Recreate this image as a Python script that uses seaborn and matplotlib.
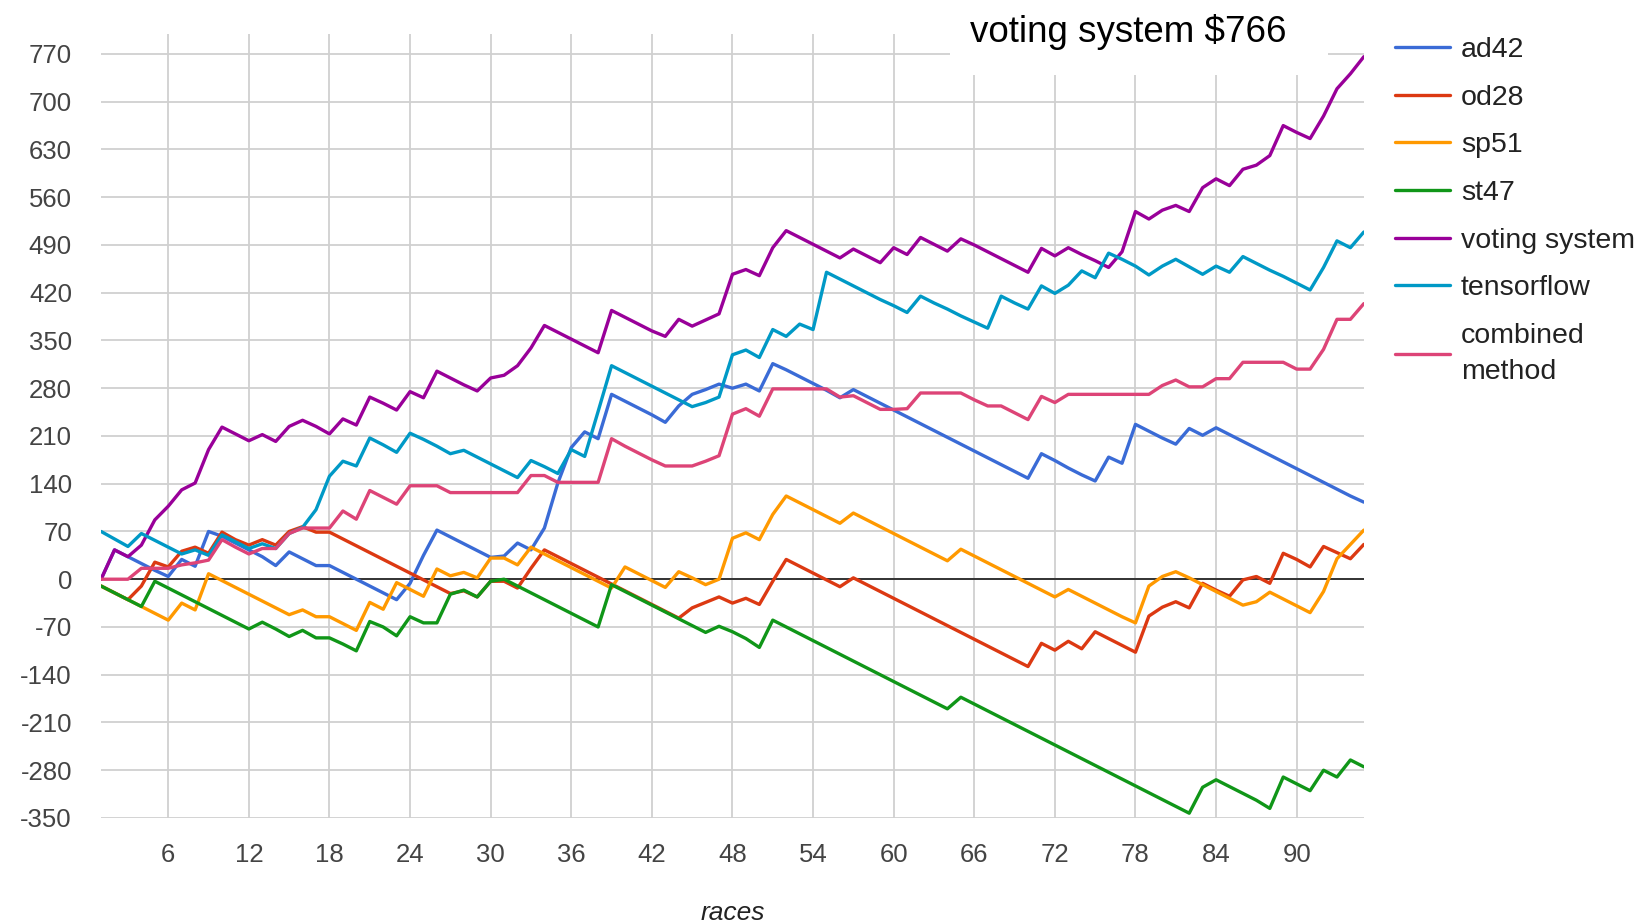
import matplotlib
matplotlib.use("Agg")
import matplotlib.pyplot as plt
from matplotlib.lines import Line2D
from matplotlib.patches import Rectangle
import numpy as np
import pandas as pd
import seaborn as sns

# ---------------- data ----------------
races = list(range(1, 96))

ad42 = [0, 43, 33, 23, 13, 4, 29, 19, 70, 63,
        53, 43, 33, 20, 40, 30, 20, 20, 10, 0,
        -10, -20, -30, -6, 35, 72, 62, 52, 42, 32,
        34, 53, 43, 75, 141, 193, 216, 206, 271, 261,
        251, 241, 230, 254, 271, 278, 286, 280, 286, 276,
        316, 307, 297, 287, 277, 266, 278, 268, 258, 248,
        238, 228, 218, 208, 198, 188, 178, 168, 158, 148,
        184, 174, 163, 153, 144, 179, 170, 227, 217, 207,
        198, 221, 211, 222, 212, 202, 192, 182, 172, 162,
        152, 142, 132, 122, 113]

od28 = [-10, -20, -30, -10, 25, 18, 41, 47, 38, 69,
        58, 50, 58, 50, 70, 77, 69, 69, 59, 49,
        39, 29, 19, 9, -1, -11, -21, -17, -26, -3,
        -3, -13, 16, 43, 33, 23, 13, 3, -7, -17,
        -27, -37, -47, -57, -42, -34, -26, -35, -28, -37,
        -3, 29, 19, 9, -1, -11, 2, -8, -18, -28,
        -38, -48, -58, -68, -78, -88, -98, -108, -118, -128,
        -94, -104, -91, -102, -77, -87, -97, -107, -54, -41,
        -33, -42, -6, -16, -25, -1, 4, -6, 38, 29,
        18, 48, 39, 30, 51]

sp51 = [-10, -20, -30, -40, -50, -60, -35, -45, 8, -2,
        -12, -22, -32, -42, -52, -45, -55, -55, -65, -75,
        -34, -44, -5, -15, -25, 15, 5, 10, 2, 31,
        31, 21, 47, 37, 27, 17, 7, -3, -13, 18,
        8, -2, -12, 11, 2, -8, 0, 60, 68, 58,
        95, 122, 112, 102, 92, 82, 97, 87, 77, 67,
        57, 47, 37, 27, 44, 34, 24, 14, 4, -6,
        -16, -26, -15, -25, -35, -45, -55, -64, -10, 4,
        11, 2, -8, -18, -28, -38, -33, -19, -29, -39,
        -49, -18, 30, 51, 72]

st47 = [-10, -20, -30, -40, -3, -13, -23, -33, -43, -53,
        -63, -73, -63, -73, -84, -75, -86, -86, -95, -105,
        -62, -70, -83, -55, -64, -64, -22, -16, -26, -3,
        0, -10, -20, -30, -40, -50, -60, -70, -8, -18,
        -28, -38, -48, -58, -68, -78, -69, -77, -87, -100,
        -60, -70, -80, -90, -100, -110, -120, -130, -140, -150,
        -160, -170, -180, -190, -173, -183, -193, -203, -213, -223,
        -233, -243, -253, -263, -273, -283, -293, -303, -313, -323,
        -333, -343, -305, -294, -304, -314, -324, -336, -290, -300,
        -310, -280, -290, -265, -275]

voting_system = [0, 43, 33, 50, 87, 107, 131, 141, 190, 223,
                 213, 203, 212, 202, 224, 233, 224, 213, 235, 226,
                 267, 258, 248, 275, 266, 305, 295, 285, 276, 295,
                 299, 313, 339, 372, 362, 352, 342, 332, 394, 384,
                 374, 364, 356, 381, 371, 380, 389, 447, 454, 445,
                 486, 511, 501, 491, 481, 471, 484, 474, 464, 486,
                 476, 501, 491, 481, 499, 490, 480, 470, 460, 450,
                 485, 474, 486, 476, 467, 457, 480, 539, 528, 541,
                 548, 539, 574, 587, 577, 601, 607, 621, 665, 655,
                 646, 679, 719, 741, 766]

tensorflow = [70, 59, 48, 67, 57, 47, 37, 43, 35, 65,
              55, 45, 52, 45, 67, 76, 102, 151, 173, 166,
              207, 197, 186, 214, 205, 195, 184, 189, 179, 169,
              159, 149, 174, 165, 155, 190, 180, 246, 313, 303,
              293, 283, 273, 263, 253, 259, 267, 329, 336, 325,
              366, 356, 374, 366, 450, 440, 430, 420, 410, 401,
              391, 415, 405, 396, 386, 377, 368, 415, 405, 396,
              430, 419, 431, 452, 442, 478, 469, 459, 446, 459,
              469, 458, 447, 459, 450, 473, 463, 453, 444, 434,
              424, 457, 496, 486, 509]

combined_method = [0, 0, 0, 16, 16, 16, 21, 24, 28, 58,
                   47, 37, 45, 45, 67, 75, 75, 75, 100, 88,
                   130, 120, 110, 137, 137, 137, 127, 127, 127, 127,
                   127, 127, 152, 152, 142, 142, 142, 142, 206, 195,
                   185, 175, 166, 166, 166, 173, 181, 242, 250, 239,
                   279, 279, 279, 279, 279, 267, 269, 259, 249, 249,
                   250, 273, 273, 273, 273, 263, 254, 254, 244, 234,
                   268, 259, 271, 271, 271, 271, 271, 271, 271, 284,
                   292, 282, 282, 294, 294, 318, 318, 318, 318, 308,
                   308, 337, 381, 381, 404]

series_names = ["ad42", "od28", "sp51", "st47", "voting system",
                "tensorflow", "combined\nmethod"]
series_values = [ad42, od28, sp51, st47, voting_system, tensorflow,
                 combined_method]
colors = ["#3a6bd6", "#dc3912", "#ff9900", "#109618", "#990099",
          "#0099c6", "#dd4477"]

y_ticks = list(range(-350, 771, 70))
x_ticks = list(range(6, 91, 6))
title_text = "voting system $766"
x_label = "races"

# ---------------- build long table ----------------
frames = []
for name, vals in zip(series_names, series_values):
    frames.append(pd.DataFrame({"race": races, "profit": vals, "series": name}))
df = pd.concat(frames, ignore_index=True)

# ---------------- style ----------------
sns.set_theme(style="white")
plt.rcParams["font.family"] = ["Liberation Sans", "DejaVu Sans"]
plt.rcParams["axes.unicode_minus"] = False

fig = plt.figure(figsize=(16.41, 9.23), dpi=100)
ax = fig.add_axes([0.0616, 0.1138, 0.7695, 0.8499])

sns.lineplot(data=df, x="race", y="profit", hue="series",
             hue_order=series_names, palette=colors, linewidth=2.4,
             estimator=None, sort=False, legend=False, ax=ax, zorder=3)

ax.set_xlim(1, 95)
ax.set_ylim(-350, 800)
ax.set_xticks(x_ticks)
ax.set_yticks(y_ticks)
ax.set_xticklabels([str(t) for t in x_ticks])
ax.set_yticklabels([str(t) for t in y_ticks])
ax.grid(True, color="#d0d0d0", linewidth=1.3)
ax.set_axisbelow(True)
for s in ax.spines.values():
    s.set_visible(False)
ax.axhline(0, color="#333333", linewidth=1.4, zorder=2)

ax.tick_params(axis="both", length=0, labelsize=18.5, labelcolor="#444444")
ax.tick_params(axis="y", pad=21)
ax.tick_params(axis="x", pad=18)

ax.set_xlabel(x_label, fontsize=19, style="italic", color="#222222")
ax.set_ylabel("")
ax.xaxis.label.set_va("center")
ax.xaxis.set_label_coords(0.5, -0.121)

# legend
handles = [Line2D([0], [0], color=c, lw=2.4) for c in colors]
leg = fig.legend(handles, series_names, loc="upper left",
                 bbox_to_anchor=(1395 / 1641, 1 - 37 / 923),
                 frameon=False, fontsize=20.5, handlelength=1.93,
                 handletextpad=0.39, labelspacing=0.76, borderpad=0,
                 borderaxespad=0, labelcolor="#222222")
for t in leg.get_texts():
    t.set_linespacing(1.5)

# title with white backing
fig.add_artist(Rectangle((950 / 1641, 1 - 75 / 923), 378 / 1641, 75 / 923,
                         transform=fig.transFigure, facecolor="white",
                         edgecolor="none", zorder=4))
fig.text(970 / 1641, 1 - 32 / 923, title_text, fontsize=26.5,
         ha="left", va="center", color="black", parse_math=False, zorder=5)

fig.savefig("out.png", dpi=100)
